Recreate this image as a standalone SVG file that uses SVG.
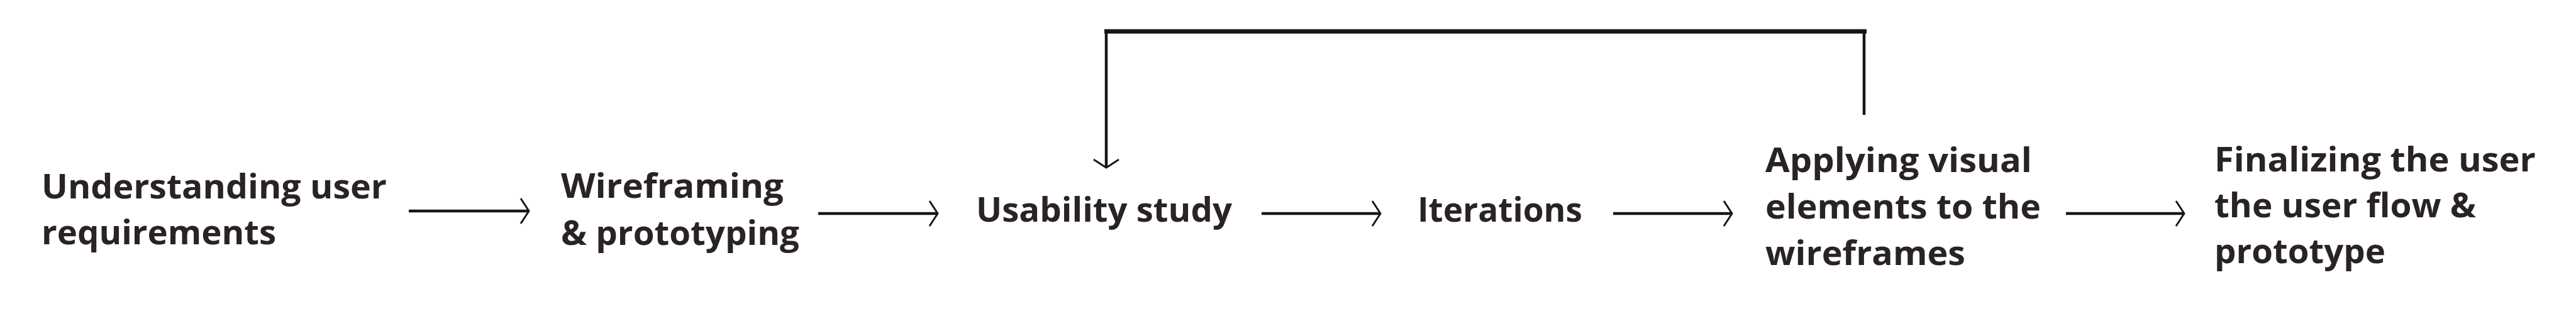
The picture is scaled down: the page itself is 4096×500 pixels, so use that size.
<svg xmlns="http://www.w3.org/2000/svg" width="4096" height="500" viewBox="0 0 4096 500">
<style>
.t{font-family:"Open Sans","Liberation Sans",sans-serif;font-weight:700;font-size:53px;fill:#2a2326}
.c{fill:none;stroke:#161616;stroke-width:4.5}
.b{fill:none;stroke:#161616;stroke-width:7}
</style>
<defs>
<marker id="ah" markerUnits="userSpaceOnUse" viewBox="-20 -25 26 50" refX="0" refY="0" markerWidth="26" markerHeight="50" orient="auto">
<path d="M-13,-20 L0,0 L-13,20" fill="none" stroke="#161616" stroke-width="3"/>
</marker>
</defs>
<rect width="4096" height="500" fill="#ffffff"/>
<g id="n1"><text class="t" x="66" y="316" textLength="549" lengthAdjust="spacingAndGlyphs">Understanding user</text><text class="t" x="66" y="389" textLength="373" lengthAdjust="spacingAndGlyphs">requirements</text></g>
<g id="n2"><text class="t" x="892" y="315" textLength="354" lengthAdjust="spacingAndGlyphs">Wireframing</text><text class="t" x="892" y="390" textLength="379" lengthAdjust="spacingAndGlyphs">&amp; prototyping</text></g>
<g id="n3"><text class="t" x="1552" y="353" textLength="407" lengthAdjust="spacingAndGlyphs">Usability study</text></g>
<g id="n4"><text class="t" x="2254" y="353" textLength="262" lengthAdjust="spacingAndGlyphs">Iterations</text></g>
<g id="n5"><text class="t" x="2807" y="274" textLength="424" lengthAdjust="spacingAndGlyphs">Applying visual</text><text class="t" x="2807" y="348" textLength="438" lengthAdjust="spacingAndGlyphs">elements to the</text><text class="t" x="2807" y="422" textLength="318" lengthAdjust="spacingAndGlyphs">wireframes</text></g>
<g id="n6"><text class="t" x="3521" y="273" textLength="511" lengthAdjust="spacingAndGlyphs">Finalizing the user</text><text class="t" x="3521" y="346" textLength="416" lengthAdjust="spacingAndGlyphs">the user flow &amp;</text><text class="t" x="3521" y="419" textLength="272" lengthAdjust="spacingAndGlyphs">prototype</text></g>
<g id="connectors">
<line class="c" x1="650" y1="336" x2="841" y2="336" marker-end="url(#ah)"/>
<line class="c" x1="1301" y1="340" x2="1491" y2="340" marker-end="url(#ah)"/>
<line class="c" x1="2006" y1="340" x2="2195" y2="340" marker-end="url(#ah)"/>
<line class="c" x1="2565" y1="340" x2="2754" y2="340" marker-end="url(#ah)"/>
<line class="c" x1="3285" y1="340" x2="3473" y2="340" marker-end="url(#ah)"/>
<line class="b" x1="1756" y1="50" x2="2968" y2="50"/>
<line class="c" x1="2964" y1="50" x2="2964" y2="183"/>
<line class="c" x1="1759" y1="50" x2="1759" y2="267" marker-end="url(#ah)"/>
</g>
</svg>
